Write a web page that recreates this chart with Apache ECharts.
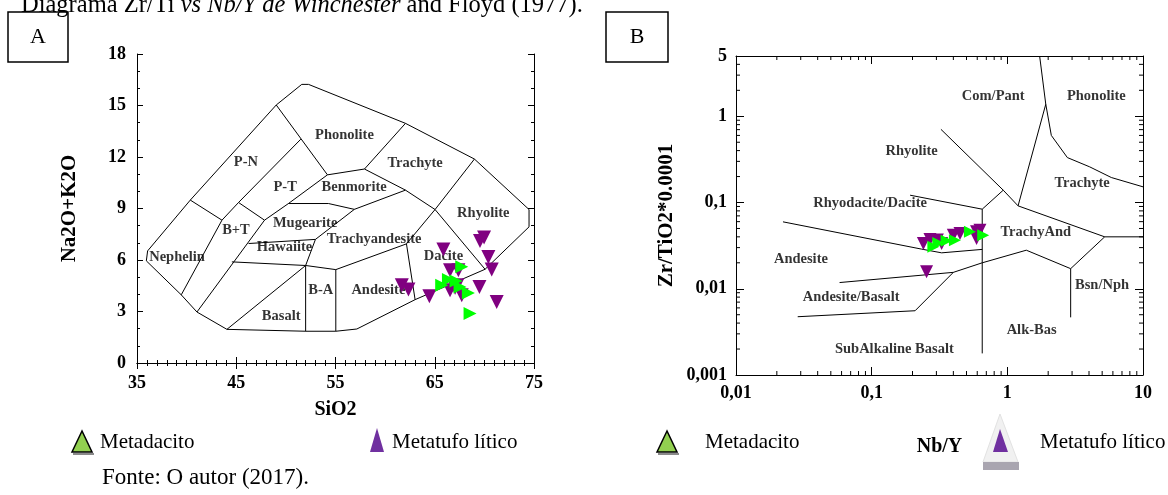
<!DOCTYPE html>
<html>
<head>
<meta charset="utf-8">
<script src="https://cdn.jsdelivr.net/npm/echarts@6/dist/echarts.min.js"></script>
<style>
html,body{margin:0;padding:0;background:#fff;overflow:hidden}
#chart{width:1168px;height:495px}
</style>
</head>
<body>
<div id="chart"></div>
<script>
// ---------- A: TAS diagram (SiO2 vs Na2O+K2O) ----------
const tasXTicks = [35, 45, 55, 65, 75];
const tasYTicks = [0, 3, 6, 9, 12, 15, 18];

// field boundaries
const tasOutline = [[36.07,6.53],[35.94,5.95],[39.46,3.97],[41.04,2.97],[44.06,1.96],[52.01,1.85],[55.03,1.85],[57.15,1.98],[63.02,3.69],[70.07,5.46],[74.5,7.93],[74.5,8.94],[69.0,11.88],[62.05,13.96],[52.28,16.23],[51.6,16.23],[49.03,15.03],[40.37,9.49],[36.07,6.53]];
const tasNephelinEdge = [[40.37,9.49],[43.56,8.32],[39.46,3.97]];
const tasPNEdge = [[43.56,8.32],[45.23,9.35],[51.51,13.04]];
const tasPhonoliteLeft = [[49.03,15.03],[54.19,10.96]];
const tasBTEdge = [[45.23,9.35],[47.85,8.32]];
const tasBasaniteEdge = [[47.85,8.32],[41.04,2.97]];
const tasPTEdge = [[47.85,8.32],[50.26,9.29],[54.19,10.96]];
const tasMugeariteTop = [[50.26,9.29],[54.29,9.29],[56.9,8.95]];
const tasBenmoriteTop = [[54.19,10.96],[57.92,11.3],[62.05,10.07]];
const tasPhonoliteRight = [[57.92,11.3],[62.05,13.96]];
const tasBenmoriteBottom = [[56.9,8.95],[62.05,10.07]];
const tasTrachyteBottom = [[62.05,10.07],[65.03,8.94],[70.07,5.46]];
const tasRhyoliteLeft = [[65.03,8.94],[69.0,11.88]];
const tasDaciteLeft = [[65.03,8.94],[62.15,6.94]];
const tasDaciteBottom = [[62.15,6.94],[63.02,3.69]];
const tasAndesiteTop = [[62.15,6.94],[55.03,5.44]];
const tasMugeariteRight = [[56.9,8.95],[52.98,7.2],[51.99,5.68]];
const tasHawaiiteTop = [[46.24,6.96],[52.98,7.2]];
const tasHawaiiteBottom = [[44.56,5.89],[51.99,5.68]];
const tasBasaltTop = [[51.99,5.68],[55.03,5.44]];
const tasBALeft = [[51.99,5.68],[51.99,1.85]];
const tasBARight = [[55.03,5.44],[55.03,1.85]];
const tasBasaltDiagonal = [[51.99,5.68],[44.06,1.96]];

const tasFieldLabels = [
  ['Phonolite',55.9,13.26],['P-N',45.97,11.69],['Trachyte',63.02,11.66],['P-T',49.93,10.26],
  ['Benmorite',56.88,10.23],['Rhyolite',69.89,8.71],['Mugearite',51.94,8.16],['B+T',44.97,7.74],
  ['Trachyandesite',58.89,7.2],['Hawaiite',49.86,6.73],['Nephelin',39.03,6.18],['Dacite',65.87,6.22],
  ['B-A',53.52,4.24],['Andesite',59.32,4.24],['Basalt',49.53,2.72]
];

// samples: [SiO2, Na2O+K2O]
const tasMetatufo = [[69.97,7.31],[69.56,7.1],[65.87,6.61],[70.4,6.18],[70.74,5.44],[66.54,5.4],[67.38,5.4],[69.5,4.43],[71.24,3.56],[61.68,4.53],[62.35,4.28],[64.46,3.89],[66.54,4.24],[67.05,4.39],[67.72,3.95],[67.28,4.53]];
const tasMetadacito = [[67.72,5.6],[65.7,4.53],[66.38,4.86],[67.15,4.78],[68.39,4.08],[68.56,2.88],[67.55,4.43]];

// ---------- B: Winchester & Floyd (1977) Zr/TiO2 vs Nb/Y ----------
const wfXTicks = [0.01, 0.1, 1, 10];
const wfYTicks = [0.001, 0.01, 0.1, 1, 5];

const wfComPantRight = [[1.73,5],[1.92,1.38],[2.11,0.6],[2.77,0.332],[4.05,0.259],[5.84,0.195],[10,0.152]];
const wfComPantBottom = [[1.92,1.38],[1.2,0.0915]];
const wfRhyoliteRight = [[0.324,0.706],[0.933,0.139],[1.2,0.0915]];
const wfTrachyAndLeft = [[0.933,0.139],[0.653,0.0837],[0.653,0.00178]];
const wfTrachyteBottom = [[1.2,0.0915],[5.22,0.04],[10,0.04]];
const wfBsnNphLeft = [[5.22,0.04],[2.93,0.0171],[2.93,0.00466]];
const wfAlkBasTop = [[0.4,0.0155],[0.653,0.02],[1.38,0.028],[2.93,0.0171]];
const wfSubAlkTop = [[0.0285,0.00474],[0.209,0.00556],[0.4,0.0155]];
const wfAndesiteBottom = [[0.058,0.0118],[0.4,0.0155]];
const wfAndesiteTop = [[0.0222,0.0597],[0.234,0.0288],[0.328,0.0261],[0.653,0.0286]];
const wfRhyodaciteTop = [[0.192,0.1216],[0.653,0.0837]];

const wfFieldLabels = [
  ['Com/Pant',0.787,1.71],['Phonolite',4.53,1.71],['Rhyolite',0.197,0.394],['Trachyte',3.56,0.166],
  ['Rhyodacite/Dacite',0.0974,0.0973],['TrachyAnd',1.62,0.045],['Andesite',0.0301,0.0219],
  ['Bsn/Nph',4.99,0.01084],['Andesite/Basalt',0.0706,0.00787],['Alk-Bas',1.51,0.00332],
  ['SubAlkaline Basalt',0.147,0.00198]
];

// samples: [Nb/Y, Zr/TiO2*0.0001]
const wfMetatufo = [[0.2405,0.0335],[0.269,0.0373],[0.305,0.0367],[0.328,0.0335],[0.4,0.0418],[0.448,0.0437],[0.593,0.0457],[0.628,0.0478],[0.593,0.0383],[0.254,0.0157]];
const wfMetadacito = [[0.285,0.0306],[0.357,0.036],[0.411,0.0366],[0.53,0.0457],[0.664,0.0418],[0.31,0.034]];

// ---------- styling ----------
const SERIF = 'Liberation Serif';
const PURPLE = '#800080';
const GREEN = '#00ff00';

const chart = echarts.init(document.getElementById('chart'), null, {renderer: 'canvas'});

const tickLabel = {fontFamily: SERIF, fontWeight: 'bold', fontSize: 18, color: '#000'};
const axisLineStyle = {show: true, lineStyle: {color: '#000', width: 1}};
const decimalComma = v => String(+(+v).toPrecision(6)).replace('.', ',');

function linAxis(grid, pos, min, max, interval, minorSplit, showLabel, extra) {
  return Object.assign({
    type: 'value', gridIndex: grid, position: pos, min, max, interval,
    axisLine: axisLineStyle,
    axisTick: {show: true, inside: true, length: 6, lineStyle: {color: '#000'}},
    minorTick: {show: true, splitNumber: minorSplit, length: 3, lineStyle: {color: '#000'}},
    splitLine: {show: false},
    axisLabel: Object.assign({show: showLabel, margin: 11}, tickLabel)
  }, extra || {});
}
function logAxis(grid, pos, min, max, showLabel, extra) {
  return Object.assign({
    type: 'log', logBase: 10, gridIndex: grid, position: pos, min, max,
    axisLine: axisLineStyle,
    axisTick: {show: true, inside: true, length: 8, lineStyle: {color: '#000'}},
    splitLine: {show: false},
    axisLabel: Object.assign({show: showLabel, margin: 9, formatter: decimalComma}, tickLabel)
  }, extra || {});
}

const axisName = {fontFamily: SERIF, fontWeight: 'bold', fontSize: 20, color: '#000'};
const axisNameV = {fontFamily: SERIF, fontWeight: 'bold', fontSize: 21, color: '#000'};

// boundary polylines
function boundary(pts, xi, yi) {
  return {type: 'line', xAxisIndex: xi, yAxisIndex: yi, data: pts, symbol: 'none', silent: true,
    lineStyle: {color: '#000', width: 1}, z: 2, animation: false};
}
function fieldLabels(list, xi, yi) {
  return {type: 'scatter', xAxisIndex: xi, yAxisIndex: yi, symbolSize: 1, silent: true,
    itemStyle: {color: 'rgba(0,0,0,0)'}, z: 4, animation: false,
    label: {show: true, position: 'inside', formatter: '{b}', fontFamily: SERIF, fontWeight: 'bold',
      fontSize: 14.5, color: '#000', textBorderWidth: 0, textShadowBlur: 0},
    data: list.map(d => ({name: d[0], value: [d[1], d[2]]}))};
}
function samples(pts, xi, yi, color, rotate, size, z) {
  return {type: 'scatter', xAxisIndex: xi, yAxisIndex: yi, data: pts, symbol: 'triangle',
    symbolRotate: rotate, symbolSize: size, itemStyle: {color: color, opacity: 1}, z: z, animation: false};
}

// minor ticks (2..9 per decade) for the log axes of chart B
const wfXMinor = [], wfYMinor = [];
[0.01, 0.1, 1].forEach(d => { for (let k = 2; k <= 9; k++) wfXMinor.push(+(k * d).toPrecision(3)); });
[0.001, 0.01, 0.1, 1].forEach(d => { for (let k = 2; k <= 9; k++) { const v = +(k * d).toPrecision(3); if (v < 5) wfYMinor.push(v); } });

function logMinorTicks(values, dir, xi, yi) {
  return {
    type: 'custom', xAxisIndex: xi, yAxisIndex: yi, silent: true, clip: false, z: 5, animation: false,
    data: values.map(v => dir === 'x' ? [v, 1] : [1, v]),
    renderItem: function (params, api) {
      const cs = params.coordSys;
      const p = api.coord([api.value(0), api.value(1)]);
      const len = 4, st = {stroke: '#000', lineWidth: 1};
      if (dir === 'x') {
        return {type: 'group', children: [
          {type: 'line', shape: {x1: p[0], y1: cs.y + cs.height, x2: p[0], y2: cs.y + cs.height - len}, style: st},
          {type: 'line', shape: {x1: p[0], y1: cs.y, x2: p[0], y2: cs.y + len}, style: st}
        ]};
      }
      return {type: 'group', children: [
        {type: 'line', shape: {x1: cs.x, y1: p[1], x2: cs.x + len, y2: p[1]}, style: st},
        {type: 'line', shape: {x1: cs.x + cs.width, y1: p[1], x2: cs.x + cs.width - len, y2: p[1]}, style: st}
      ]};
    }
  };
}

const tasBoundaries = [tasOutline, tasNephelinEdge, tasPNEdge, tasPhonoliteLeft, tasBTEdge, tasBasaniteEdge, tasPTEdge,
  tasMugeariteTop, tasBenmoriteTop, tasPhonoliteRight, tasBenmoriteBottom, tasTrachyteBottom, tasRhyoliteLeft,
  tasDaciteLeft, tasDaciteBottom, tasAndesiteTop, tasMugeariteRight, tasHawaiiteTop, tasHawaiiteBottom,
  tasBasaltTop, tasBALeft, tasBARight, tasBasaltDiagonal];
const wfBoundaries = [wfComPantRight, wfComPantBottom, wfRhyoliteRight, wfTrachyAndLeft, wfTrachyteBottom,
  wfBsnNphLeft, wfAlkBasTop, wfSubAlkTop, wfAndesiteBottom, wfAndesiteTop, wfRhyodaciteTop];

const series = [];
tasBoundaries.forEach(b => series.push(boundary(b, 0, 0)));
series.push(fieldLabels(tasFieldLabels, 0, 0));
series.push(samples(tasMetatufo, 0, 0, PURPLE, 180, 14, 6));
series.push(samples(tasMetadacito, 0, 0, GREEN, -90, 13, 7));
wfBoundaries.forEach(b => series.push(boundary(b, 2, 2)));
series.push(fieldLabels(wfFieldLabels, 2, 2));
series.push(samples(wfMetatufo, 2, 2, PURPLE, 180, 13, 6));
series.push(samples(wfMetadacito, 2, 2, GREEN, -90, 12, 7));
series.push(logMinorTicks(wfXMinor, 'x', 2, 2));
series.push(logMinorTicks(wfYMinor, 'y', 2, 2));

const legendText = {fontFamily: SERIF, fontSize: 21, fill: '#000', verticalAlign: 'middle'};

chart.setOption({
  animation: false,
  backgroundColor: '#fff',
  grid: [
    {left: 137, top: 54, width: 397, height: 309},
    {left: 736, top: 56, width: 407, height: 319}
  ],
  xAxis: [
    linAxis(0, 'bottom', tasXTicks[0], tasXTicks[tasXTicks.length - 1], 10, 10, true,
      {name: 'SiO2', nameLocation: 'middle', nameGap: 37, nameTextStyle: axisName}),
    linAxis(0, 'top', tasXTicks[0], tasXTicks[tasXTicks.length - 1], 10, 10, false),
    logAxis(1, 'bottom', wfXTicks[0], wfXTicks[wfXTicks.length - 1], true,
      {name: 'Nb/Y', nameLocation: 'middle', nameGap: 62, nameTextStyle: axisName}),
    logAxis(1, 'top', wfXTicks[0], wfXTicks[wfXTicks.length - 1], false)
  ],
  yAxis: [
    linAxis(0, 'left', tasYTicks[0], tasYTicks[tasYTicks.length - 1], 3, 3, true,
      {name: 'Na2O+K2O', nameLocation: 'middle', nameGap: 57, nameRotate: 90, nameTextStyle: axisNameV}),
    linAxis(0, 'right', tasYTicks[0], tasYTicks[tasYTicks.length - 1], 3, 3, false),
    logAxis(1, 'left', wfYTicks[0], wfYTicks[wfYTicks.length - 1], true,
      {name: 'Zr/TiO2*0.0001', nameLocation: 'middle', nameGap: 59, nameRotate: 90, nameTextStyle: axisNameV}),
    logAxis(1, 'right', wfYTicks[0], wfYTicks[wfYTicks.length - 1], false)
  ],
  series: series,
  graphic: [
    {type: 'text', left: 21, top: -7, style: {
      text: '{n|Diagrama Zr/Ti }{i|vs Nb/Y de Winchester}{n| and Floyd (1977).}',
      rich: {n: {fontFamily: SERIF, fontSize: 24.5, fill: '#000'}, i: {fontFamily: SERIF, fontSize: 24.5, fontStyle: 'italic', fill: '#000'}}
    }},
    {type: 'rect', shape: {x: 8, y: 12, width: 60, height: 50}, style: {fill: 'none', stroke: '#000', lineWidth: 1.5}},
    {type: 'text', x: 38, y: 37, style: {text: 'A', fontFamily: SERIF, fontSize: 22, fill: '#000', align: 'center', verticalAlign: 'middle'}},
    {type: 'rect', shape: {x: 606, y: 12, width: 62, height: 50}, style: {fill: 'none', stroke: '#000', lineWidth: 1.5}},
    {type: 'text', x: 637, y: 37, style: {text: 'B', fontFamily: SERIF, fontSize: 22, fill: '#000', align: 'center', verticalAlign: 'middle'}},

    // legend row
    {type: 'line', shape: {x1: 73, y1: 454, x2: 94, y2: 454}, style: {stroke: '#8a8a8a', lineWidth: 2}},
    {type: 'polygon', shape: {points: [[82, 431], [72, 452], [92, 452]]}, style: {fill: '#92d050', stroke: '#000', lineWidth: 1.5}},
    {type: 'text', x: 100, y: 442, style: Object.assign({text: 'Metadacito'}, legendText)},
    {type: 'polygon', shape: {points: [[377, 428], [370, 452], [384, 452]]}, style: {fill: '#7030a0'}},
    {type: 'text', x: 392, y: 442, style: Object.assign({text: 'Metatufo lítico'}, legendText)},
    {type: 'line', shape: {x1: 658, y1: 454, x2: 679, y2: 454}, style: {stroke: '#8a8a8a', lineWidth: 2}},
    {type: 'polygon', shape: {points: [[667, 431], [657, 452], [677, 452]]}, style: {fill: '#92d050', stroke: '#000', lineWidth: 1.5}},
    {type: 'text', x: 705, y: 442, style: Object.assign({text: 'Metadacito'}, legendText)},
    {type: 'polygon', shape: {points: [[1000, 414], [983, 462], [1018, 462]]}, style: {fill: '#f1f1f1', stroke: '#e2e2e2', lineWidth: 1}},
    {type: 'rect', shape: {x: 983, y: 462, width: 36, height: 8}, style: {fill: '#a9a5b0'}},
    {type: 'polygon', shape: {points: [[1000, 429], [993, 452], [1008, 452]]}, style: {fill: '#7030a0'}},
    {type: 'text', x: 1040, y: 442, style: Object.assign({text: 'Metatufo lítico'}, legendText)},
    {type: 'text', x: 102, y: 478, style: {text: 'Fonte: O autor (2017).', fontFamily: SERIF, fontSize: 23, fill: '#000', verticalAlign: 'middle'}}
  ]
});
</script>
</body>
</html>
